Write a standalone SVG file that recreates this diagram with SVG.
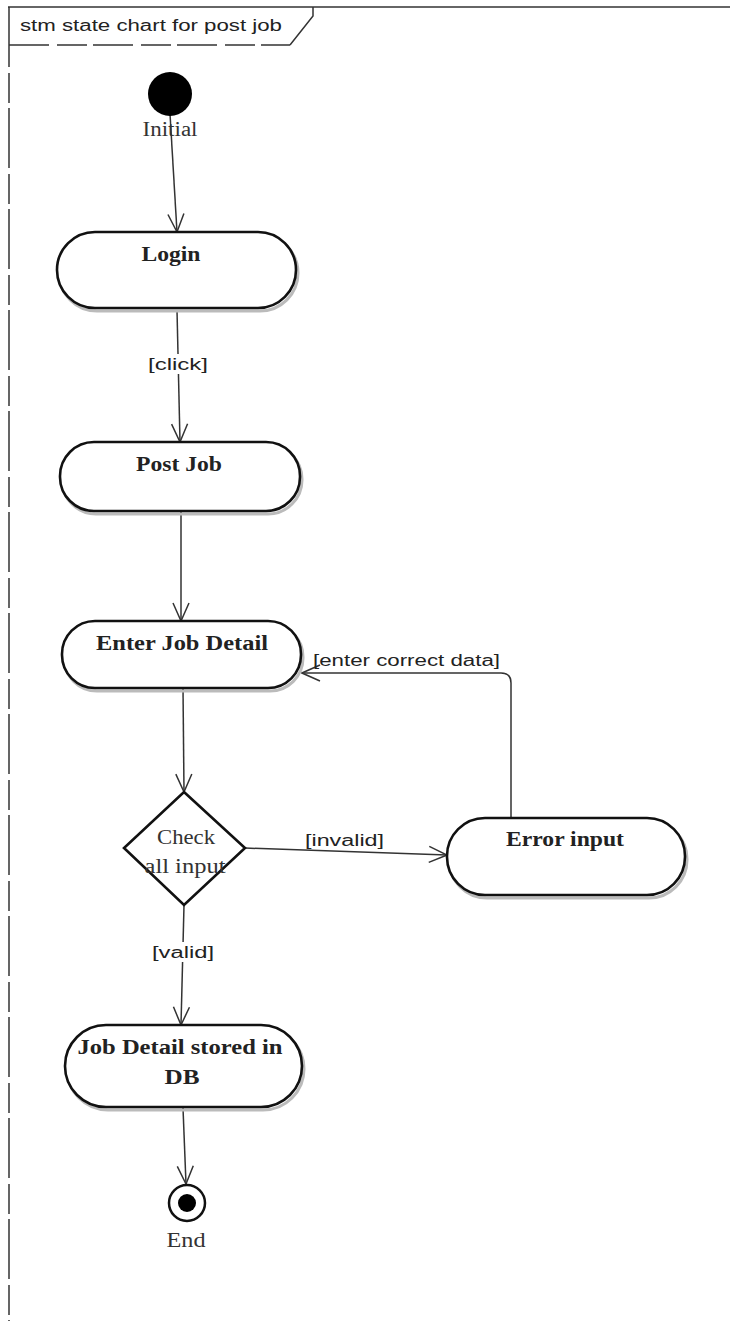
<svg xmlns="http://www.w3.org/2000/svg" width="730" height="1321" viewBox="0 0 730 1321">
  <style>
    .state { fill: #fff; stroke: #111; stroke-width: 2.6; }
    .shadow { fill: none; stroke: #bbb; stroke-width: 3; }
    .name { font-family: "Liberation Serif", "Times New Roman", serif; font-weight: bold; font-size: 20px; fill: #222; text-anchor: middle; }
    .plain { font-family: "Liberation Serif", "Times New Roman", serif; font-size: 20px; fill: #333; text-anchor: middle; }
    .guard { font-family: "Liberation Sans", Arial, sans-serif; font-size: 16px; fill: #222; }
    .edge { fill: none; stroke: #333; stroke-width: 1.5; }
    .frame { fill: none; stroke: #333; stroke-width: 1.5; }
  </style>
  <defs>
    <marker id="open" viewBox="0 0 20 20" refX="19" refY="10" markerWidth="20" markerHeight="20" markerUnits="userSpaceOnUse" orient="auto">
      <path d="M1,2 L19,10 L1,18" fill="none" stroke="#333" stroke-width="1.5"/>
    </marker>
  </defs>

  <!-- frame and name tab -->
  <g id="frame">
    <line class="frame" x1="8" y1="7" x2="730" y2="7"/>
    <line class="frame" x1="9" y1="7" x2="9" y2="1321" stroke-dasharray="60 6 30 5"/>
    <path class="frame" d="M313,7 L313,16 L290,45"/>
    <line class="frame" x1="9" y1="45" x2="290" y2="45" stroke-dasharray="40 8 30 6"/>
    <text x="20" y="31" font-family="Liberation Sans, Arial, sans-serif" font-size="16" fill="#222" textLength="262" lengthAdjust="spacingAndGlyphs">stm state chart for post job</text>
  </g>

  <!-- transitions -->
  <g id="connectors">
    <line class="edge" x1="170" y1="114" x2="177" y2="232" marker-end="url(#open)"/>
    <line class="edge" x1="177" y1="310" x2="180" y2="442" marker-end="url(#open)"/>
    <rect x="146" y="354" width="64" height="20" fill="#fff"/>
    <text class="guard" x="148" y="370" textLength="60" lengthAdjust="spacingAndGlyphs">[click]</text>
    <line class="edge" x1="181" y1="512" x2="181" y2="621" marker-end="url(#open)"/>
    <line class="edge" x1="183" y1="688" x2="184" y2="792" marker-end="url(#open)"/>
    <path class="edge" d="M511,818 L511,683 Q511,673 501,673 L302,673" marker-end="url(#open)"/>
    <text class="guard" x="313" y="666" textLength="187" lengthAdjust="spacingAndGlyphs">[enter correct data]</text>
    <line class="edge" x1="245" y1="848" x2="447" y2="855" marker-end="url(#open)"/>
    <text class="guard" x="305" y="846" textLength="79" lengthAdjust="spacingAndGlyphs">[invalid]</text>
    <line class="edge" x1="184" y1="905" x2="181" y2="1025" marker-end="url(#open)"/>
    <rect x="150" y="942" width="66" height="20" fill="#fff"/>
    <text class="guard" x="152" y="958" textLength="62" lengthAdjust="spacingAndGlyphs">[valid]</text>
    <line class="edge" x1="183" y1="1108" x2="186" y2="1184" marker-end="url(#open)"/>
  </g>

  <g id="initial">
    <circle cx="170" cy="94" r="22" fill="#000"/>
    <text class="plain" x="170" y="136" textLength="55" lengthAdjust="spacingAndGlyphs">Initial</text>
  </g>

  <g id="login">
    <rect class="shadow" x="59" y="235" width="239" height="76" rx="38"/>
    <rect class="state" x="57" y="232" width="239" height="76" rx="38"/>
    <text class="name" x="171" y="261" textLength="59" lengthAdjust="spacingAndGlyphs">Login</text>
  </g>

  <g id="post-job">
    <rect class="shadow" x="62" y="445" width="240" height="69" rx="34"/>
    <rect class="state" x="60" y="442" width="240" height="69" rx="34"/>
    <text class="name" x="179" y="471" textLength="86" lengthAdjust="spacingAndGlyphs">Post Job</text>
  </g>

  <g id="enter-job-detail">
    <rect class="shadow" x="64" y="624" width="239" height="67" rx="33"/>
    <rect class="state" x="62" y="621" width="239" height="67" rx="33"/>
    <text class="name" x="182" y="650" textLength="172" lengthAdjust="spacingAndGlyphs">Enter Job Detail</text>
  </g>

  <g id="check-all-input">
    <path class="state" d="M184,792 L245,848 L184,905 L124,848 Z"/>
    <text class="plain" x="186" y="844" textLength="58" lengthAdjust="spacingAndGlyphs">Check</text>
    <text class="plain" x="185" y="873" textLength="81" lengthAdjust="spacingAndGlyphs">all input</text>
  </g>

  <g id="error-input">
    <rect class="shadow" x="449" y="821" width="238" height="77" rx="38"/>
    <rect class="state" x="447" y="818" width="238" height="77" rx="38"/>
    <text class="name" x="565" y="846" textLength="118" lengthAdjust="spacingAndGlyphs">Error input</text>
  </g>

  <g id="job-detail-stored">
    <rect class="shadow" x="67" y="1028" width="237" height="82" rx="41"/>
    <rect class="state" x="65" y="1025" width="237" height="82" rx="41"/>
    <text class="name" x="180" y="1054" textLength="205" lengthAdjust="spacingAndGlyphs">Job Detail stored in</text>
    <text class="name" x="182" y="1084" textLength="35" lengthAdjust="spacingAndGlyphs">DB</text>
  </g>

  <g id="end">
    <circle cx="187" cy="1203" r="18" fill="#fff" stroke="#111" stroke-width="2.5"/>
    <circle cx="187" cy="1203" r="9" fill="#000"/>
    <text class="plain" x="186" y="1247" textLength="39" lengthAdjust="spacingAndGlyphs">End</text>
  </g>
</svg>
